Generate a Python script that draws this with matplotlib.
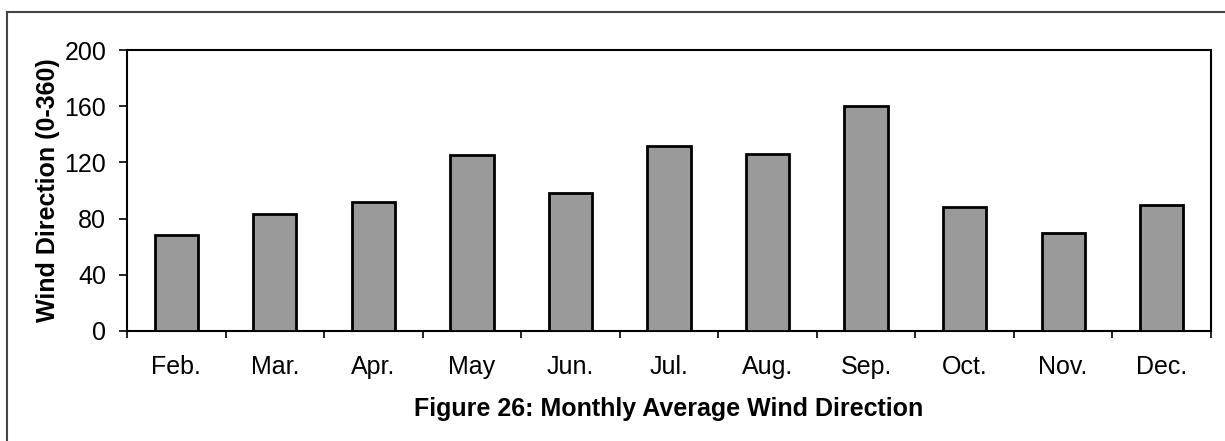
import numpy as np
import matplotlib as mpl
import matplotlib.pyplot as plt
from matplotlib.lines import Line2D

# data
months = ['Feb.', 'Mar.', 'Apr.', 'May', 'Jun.', 'Jul.', 'Aug.', 'Sep.', 'Oct.', 'Nov.', 'Dec.']
direction = [68, 83, 92, 125, 98, 132, 126, 160, 88, 70, 90]
yticks = [0, 40, 80, 120, 160, 200]

mpl.rcParams['font.family'] = ['Liberation Sans', 'DejaVu Sans']

W, H = 1225, 441
fig = plt.figure(figsize=(W / 100, H / 100), dpi=100)

# axes placed in pixel terms
left, right, top, bottom = 127, 1211, 50, 331
ax = fig.add_axes([left / W, 1 - bottom / H, (right - left) / W, (bottom - top) / H])

x = np.arange(len(months))
ax.bar(x, direction, width=0.44, color='#9a9a9a', edgecolor='black', linewidth=2, zorder=3)

ax.set_xlim(-0.5, len(months) - 0.5)
ax.set_ylim(0, 200)
ax.set_yticks(yticks)
ax.set_yticklabels([str(v) for v in yticks], fontsize=18)

# ticks sit between categories, labels centred on bars
ax.set_xticks(np.arange(-0.5, len(months), 1.0))
ax.set_xticklabels([])
ax.set_xticks(x, minor=True)
ax.set_xticklabels(months, minor=True, fontsize=18)
ax.tick_params(axis='x', which='minor', length=0, pad=17)
ax.tick_params(axis='x', which='major', length=5, width=1.2, direction='out')
ax.tick_params(axis='y', length=6, width=1.2, direction='out', pad=9)

for s in ax.spines.values():
    s.set_linewidth(1.5)
    s.set_color('black')

ax.set_ylabel('Wind Direction (0-360)', fontsize=18, fontweight='bold', labelpad=3)
ax.set_xlabel('Figure 26: Monthly Average Wind Direction', fontsize=18,
              fontweight='bold', labelpad=13)

# outer chart frame: only top and left edges show in the scan
fig.add_artist(Line2D([7 / W, 1], [1 - 12 / H, 1 - 12 / H], transform=fig.transFigure,
                      color='#444444', linewidth=1.5))
fig.add_artist(Line2D([7 / W, 7 / W], [0, 1 - 12 / H], transform=fig.transFigure,
                      color='#444444', linewidth=1.5))

fig.savefig('out.png', dpi=100)
